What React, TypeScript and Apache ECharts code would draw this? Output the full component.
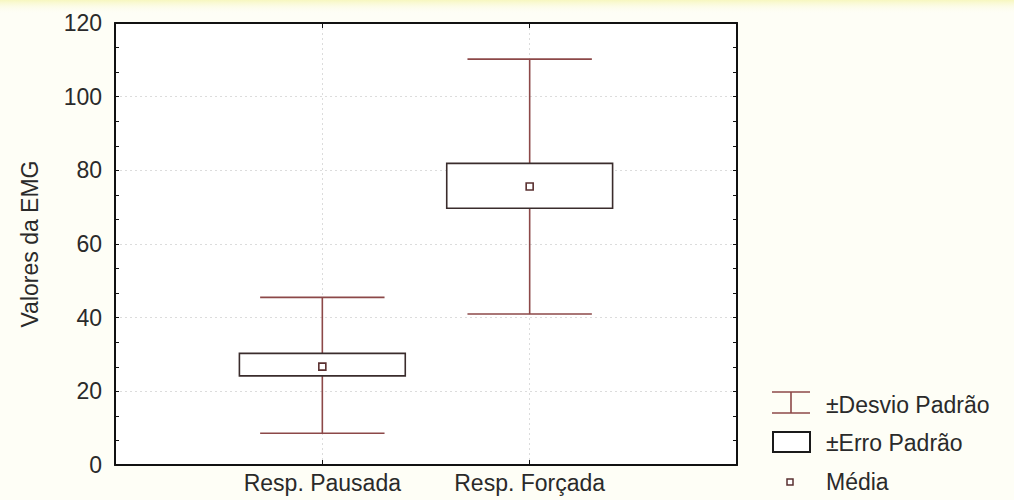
import React, { useEffect, useRef } from "react";
import * as echarts from "echarts";

const categories = ["Resp. Pausada", "Resp. Forçada"];
const means = [26.7, 75.6];
const seLow = [24.2, 69.7];
const seHigh = [30.3, 81.9];
const sdLow = [8.6, 41.0];
const sdHigh = [45.5, 110.2];
const yTicks = [0, 20, 40, 60, 80, 100, 120];
const legendLabels = ["±Desvio Padrão", "±Erro Padrão", "Média"];
const yAxisTitle = "Valores da EMG";

const WHISKER = "#8c4848";
const BOX = "#3a2c2c";
const FONT = "'Liberation Sans', Arial, sans-serif";
const TXT = "#2a2a2a";

export default function App() {
  const ref = useRef<HTMLDivElement>(null);
  useEffect(() => {
    const chart = echarts.init(ref.current!, null, { renderer: "svg" });
    const data = categories.map((_, i) => [i + 1, sdLow[i], seLow[i], means[i], seHigh[i], sdHigh[i]]);
    const frameLine = { show: true, onZero: false, lineStyle: { color: "#111", width: 2 } };
    const option: any = {
      animation: false,
      backgroundColor: "#fefef6",
      grid: {
        left: 115,
        top: 23,
        right: 277,
        bottom: 35,
        show: true,
        backgroundColor: "#ffffff",
        borderWidth: 0,
      },
      xAxis: [
        {
          type: "value",
          min: 0,
          max: categories.length + 1,
          interval: 1,
          position: "bottom",
          axisLine: frameLine,
          axisTick: { show: true, inside: true, length: 5, lineStyle: { color: "#111" } },
          axisLabel: {
            color: TXT,
            fontSize: 23,
            fontFamily: FONT,
            margin: 6,
            formatter: (v: number) => (v >= 1 && v <= categories.length ? categories[v - 1] : ""),
          },
          splitLine: { show: true, lineStyle: { color: "#dcdcdc", type: [2, 3], width: 1 } },
        },
        {
          type: "value",
          min: 0,
          max: categories.length + 1,
          interval: 1,
          position: "top",
          axisLine: frameLine,
          axisTick: { show: true, inside: true, length: 5, lineStyle: { color: "#111" } },
          axisLabel: { show: false },
          splitLine: { show: false },
        },
      ],
      yAxis: [
        {
          type: "value",
          min: yTicks[0],
          max: yTicks[yTicks.length - 1],
          interval: 20,
          position: "left",
          name: yAxisTitle,
          nameLocation: "middle",
          nameGap: 74,
          nameTextStyle: { color: TXT, fontSize: 23, fontFamily: FONT },
          axisLine: frameLine,
          axisTick: { show: true, inside: true, length: 4, lineStyle: { color: "#111" } },
          minorTick: { show: true, splitNumber: 3, length: 4, lineStyle: { color: "#111" } },
          axisLabel: { color: TXT, fontSize: 23, fontFamily: FONT, margin: 13 },
          splitLine: { show: true, lineStyle: { color: "#dcdcdc", type: [2, 3], width: 1 } },
        },
        {
          type: "value",
          min: yTicks[0],
          max: yTicks[yTicks.length - 1],
          interval: 20,
          position: "right",
          axisLine: frameLine,
          axisTick: { show: true, inside: true, length: 4, lineStyle: { color: "#111" } },
          minorTick: { show: true, splitNumber: 3, length: 4, lineStyle: { color: "#111" } },
          axisLabel: { show: false },
          splitLine: { show: false },
        },
      ],
      series: [
        {
          type: "custom",
          xAxisIndex: 0,
          yAxisIndex: 0,
          data,
          renderItem: (params: any, api: any) => {
            const x = api.value(0);
            const step = api.size([1, 0])[0];
            const capHalf = step * 0.3;
            const boxHalf = step * 0.4;
            const pSdLow = api.coord([x, api.value(1)]);
            const pSeLow = api.coord([x, api.value(2)]);
            const pMean = api.coord([x, api.value(3)]);
            const pSeHigh = api.coord([x, api.value(4)]);
            const pSdHigh = api.coord([x, api.value(5)]);
            const cx = pMean[0];
            const ws = { stroke: WHISKER, lineWidth: 1.6 };
            return {
              type: "group",
              children: [
                { type: "line", shape: { x1: cx, y1: pSdHigh[1], x2: cx, y2: pSdLow[1] }, style: ws },
                { type: "line", shape: { x1: cx - capHalf, y1: pSdHigh[1], x2: cx + capHalf, y2: pSdHigh[1] }, style: ws },
                { type: "line", shape: { x1: cx - capHalf, y1: pSdLow[1], x2: cx + capHalf, y2: pSdLow[1] }, style: ws },
                {
                  type: "rect",
                  shape: { x: cx - boxHalf, y: pSeHigh[1], width: boxHalf * 2, height: pSeLow[1] - pSeHigh[1] },
                  style: { fill: "#ffffff", stroke: BOX, lineWidth: 1.6 },
                },
                {
                  type: "rect",
                  shape: { x: cx - 3.5, y: pMean[1] - 3.5, width: 7, height: 7 },
                  style: { fill: "#ffffff", stroke: "#5a3030", lineWidth: 1.6 },
                },
              ],
            };
          },
        },
      ],
      graphic: [
        {
          type: "rect",
          left: 0,
          top: 0,
          shape: { width: 1014, height: 14 },
          silent: true,
          style: {
            fill: new echarts.graphic.LinearGradient(0, 0, 0, 1, [
              { offset: 0, color: "rgba(246,246,185,0.9)" },
              { offset: 1, color: "rgba(254,254,246,0)" },
            ]),
          },
        },
        // legend: whisker glyph
        { type: "line", shape: { x1: 772, y1: 392, x2: 810, y2: 392 }, style: { stroke: WHISKER, lineWidth: 1.6 } },
        { type: "line", shape: { x1: 772, y1: 413, x2: 810, y2: 413 }, style: { stroke: WHISKER, lineWidth: 1.6 } },
        { type: "line", shape: { x1: 791, y1: 392, x2: 791, y2: 413 }, style: { stroke: WHISKER, lineWidth: 1.6 } },
        { type: "text", x: 826, y: 405, style: { text: legendLabels[0], fill: TXT, fontSize: 23, fontFamily: FONT, verticalAlign: "middle" } },
        // legend: box glyph
        { type: "rect", shape: { x: 773, y: 432, width: 37, height: 20 }, style: { fill: "#ffffff", stroke: "#1a1a1a", lineWidth: 2 } },
        { type: "text", x: 826, y: 443, style: { text: legendLabels[1], fill: TXT, fontSize: 23, fontFamily: FONT, verticalAlign: "middle" } },
        // legend: mean glyph
        { type: "rect", shape: { x: 787, y: 479, width: 6, height: 6 }, style: { fill: "#ffffff", stroke: "#5a3030", lineWidth: 1.5 } },
        { type: "text", x: 826, y: 482, style: { text: legendLabels[2], fill: TXT, fontSize: 23, fontFamily: FONT, verticalAlign: "middle" } },
      ],
    };
    chart.setOption(option);
    return () => chart.dispose();
  }, []);
  return (
    <div
      ref={ref}
      style={{ position: "fixed", left: 0, top: 0, width: 1014, height: 500 }}
    />
  );
}
